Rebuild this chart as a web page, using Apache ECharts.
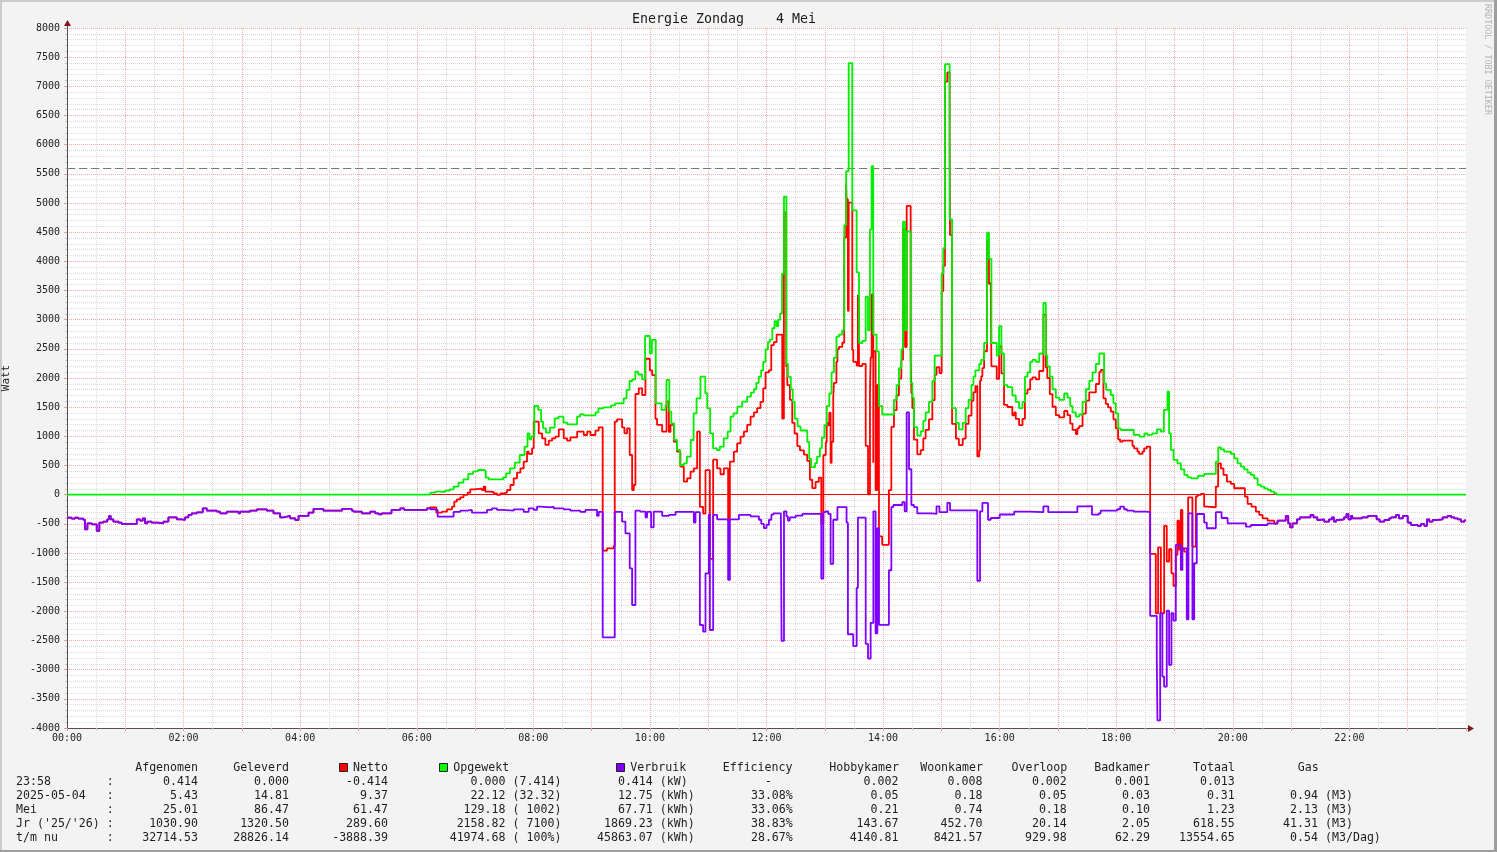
<!DOCTYPE html>
<html><head><meta charset="utf-8">
<script>
// zrender drops polyline segments shorter than ~2/devicePixelRatio px; raise the
// ratio it reads so 1-px RRD steps are kept (the canvas itself is still drawn at 1x).
try { Object.defineProperty(window, 'devicePixelRatio', { value: 8, configurable: true, writable: true }); } catch (e) {}
</script>
<script src="https://cdn.jsdelivr.net/npm/echarts@6/dist/echarts.min.js"></script>
<style>html,body{margin:0;padding:0;background:#f3f3f3}#c{width:1497px;height:852px}</style>
</head><body><div id="c"></div><script>
// ---------- DATA (time in minutes since 00:00, values in Watt) ----------
const titleText = 'Energie Zondag    4 Mei';
const hourTicks = [0, 120, 240, 360, 480, 600, 720, 840, 960, 1080, 1200, 1320];

const opgewekt = [[0,0],[374,35],[379,52],[384,46],[389,69],[394,92],[398,138],[403,206],[408,263],[413,355],[418,400],[423,423],[429,412],[431,292],[434,263],[449,298],[452,366],[456,452],[461,549],[466,680],[471,823],[474,1052],[476,950],[478,1000],[481,1520],[485,1452],[488,1252],[490,1138],[493,1063],[497,1150],[502,1309],[506,1338],[511,1235],[515,1206],[525,1338],[528,1378],[532,1360],[544,1412],[547,1480],[552,1498],[560,1530],[564,1566],[573,1652],[576,1795],[579,1949],[582,1977],[585,2109],[588,2060],[592,1977],[595,2720],[600,2423],[602,2652],[606,1566],[612,1452],[616,1530],[617,1966],[620,1423],[622,1220],[625,937],[628,766],[631,509],[635,537],[638,652],[642,937],[645,1395],[648,1652],[652,2023],[657,1737],[659,1480],[662,1052],[665,795],[669,766],[672,823],[676,966],[680,1080],[683,1338],[686,1395],[690,1510],[695,1595],[700,1680],[704,1749],[707,1807],[709.5,1915],[712,2023],[714.5,2131],[716.6,2276],[719,2492],[721.5,2615],[723.4,2658],[726,2853],[728.3,2975],[730.4,2889],[732,2997],[734,3105],[736,3791],[738,5111],[740.5,2240],[742,2023],[745,1807],[747,1590],[749,1302],[752,1172],[755,1100],[762,905],[764,616],[766,472],[770,540],[772,652],[775,797],[777,977],[779.6,1193],[782,1518],[784.6,1734],[787,2095],[789.4,2348],[792,2709],[794.6,2745],[798,2817],[800,4620],[802,5544],[804.6,7398],[808.3,4873],[812.8,3812],[815.2,2600],[818.6,2636],[822.1,3394],[824.5,2817],[826.5,4548],[828.2,5630],[829.9,2745],[833.3,2456],[835.7,1518],[839.1,1374],[851.2,1626],[853.9,1879],[856.3,2167],[858.8,2492],[860.5,4678],[862.6,2817],[864.3,4512],[868.4,1915],[870.1,1662],[871.8,1157],[875.2,1013],[878.7,1085],[881.4,1265],[883.8,1410],[887.2,1590],[890.7,1950],[893.1,2384],[900.3,3791],[902,4224],[903.7,7380],[908.5,4720],[911,1482],[915,1230],[918,1121],[922,1230],[925,1482],[928,1626],[931,1880],[933,2023],[935,2131],[939,2240],[941,2312],[944,2600],[947,4490],[949,4043],[951.5,2600],[957,2384],[959.4,2889],[961.8,2420],[964.5,1879],[968,1843],[973,1700],[976.6,1590],[980,1482],[983.5,1590],[986,2023],[988.6,2095],[991.4,2276],[993.8,2312],[997.2,2276],[1000.7,2420],[1005,3286],[1007.5,2384],[1009,2200],[1011.6,2023],[1014.4,1807],[1017.8,1662],[1021.3,1626],[1026.4,1734],[1029.8,1662],[1032.6,1518],[1035,1410],[1038.4,1338],[1041.8,1374],[1045.3,1590],[1048.7,1807],[1052.2,1950],[1055.6,2095],[1059,2240],[1062.5,2420],[1067.5,1909],[1069.5,1795],[1074.4,1709],[1077,1566],[1079.5,1395],[1082,1138],[1084.6,1109],[1098,1024],[1104,995],[1109,1052],[1112,1024],[1117,1052],[1122,1120],[1126,1080],[1129,1452],[1132.7,1766],[1134.4,1052],[1136.2,767],[1139,595],[1143,538],[1146.5,435],[1150,338],[1153.3,298],[1157,281],[1164,321],[1170.5,355],[1182.5,566],[1185,812],[1187.7,778],[1191,738],[1198,698],[1201.4,623],[1204.8,538],[1208.3,480],[1211.7,435],[1215.2,378],[1218.6,338],[1222,281],[1225.5,167],[1228.9,138],[1232.3,109],[1235.8,81],[1239.2,52],[1242.6,24],[1245,0],[1440,0]];

const verbruik = [[0,-394],[4.8,-411],[8.2,-394],[11.7,-411],[16.8,-430],[18.5,-594],[21,-491],[25.4,-508],[30.6,-622],[33.3,-479],[37.4,-462],[41.5,-422],[43.3,-365],[45,-422],[47.7,-462],[52.9,-480],[56.3,-502],[71.8,-422],[75.2,-445],[78,-405],[80.3,-491],[82.7,-462],[87.2,-479],[94,-491],[99.2,-462],[104.4,-388],[113,-422],[118,-434],[121.5,-388],[125,-348],[128.4,-319],[133.6,-302],[139.7,-234],[143.9,-274],[154.2,-291],[157.6,-319],[164.5,-291],[176.5,-319],[178.2,-291],[188.5,-274],[195.4,-251],[205.7,-274],[212.5,-319],[219.4,-388],[222.8,-377],[226.3,-365],[229.7,-405],[234.9,-434],[238.3,-365],[248.6,-308],[253.7,-245],[264,-274],[283,-245],[293.2,-274],[295,-291],[303.5,-319],[312.1,-291],[317.3,-319],[320.7,-336],[324.1,-319],[334,-262],[343,-234],[347,-262],[370.5,-234],[374,-250],[378,-262],[381.5,-377],[397.9,-296],[404.8,-274],[411.7,-262],[416.8,-308],[432.3,-262],[437.4,-234],[442.6,-262],[447.7,-274],[459.8,-251],[470.1,-296],[475.2,-234],[480.4,-262],[483.8,-205],[487.2,-217],[497.5,-205],[500.9,-234],[511.2,-251],[518.1,-274],[528.4,-296],[533.6,-262],[545.6,-365],[547.3,-296],[551.4,-2445],[563.8,-296],[571.3,-462],[574.8,-662],[579.2,-1262],[581.7,-1891],[585.1,-274],[590,-290],[595.4,-388],[597.1,-296],[601.2,-559],[603.9,-290],[612.6,-365],[619.5,-348],[626.4,-296],[645.2,-479],[646.9,-300],[651.4,-2234],[654.8,-2348],[657.2,-1348],[660.6,-340],[661.7,-2320],[665.1,-348],[669.2,-422],[680.5,-1462],[682.3,-422],[691.6,-348],[703.6,-372],[712.2,-430],[714.6,-502],[717.3,-574],[720,-516],[722.5,-430],[725,-343],[727,-322],[734.8,-360],[735.5,-2508],[738,-286],[740.5,-372],[742,-444],[744,-390],[750,-360],[757,-330],[776.4,-1440],[778.5,-300],[781,-286],[783.5,-330],[786,-1188],[788.7,-430],[793,-213],[802.4,-480],[803.8,-2393],[809.3,-2595],[812.8,-1599],[814.1,-394],[822.1,-2558],[824.5,-2810],[827.2,-2198],[830,-286],[832.3,-2378],[834.1,-574],[835.8,-2233],[846,-1296],[848.5,-213],[850.5,-177],[859.8,-127],[862.2,-286],[864.3,1410],[866.7,436],[869.1,-177],[871.8,-213],[875.2,-322],[890,-330],[895,-200],[898,-300],[906.1,-141],[908.9,-270],[937,-1476],[939.8,-286],[942.2,-141],[948,-430],[950.8,-400],[960,-340],[975,-290],[990,-300],[1005,-200],[1010,-300],[1040,-200],[1048,-196],[1055,-343],[1062,-320],[1064,-273],[1081,-250],[1084,-205],[1088,-250],[1091,-273],[1098,-290],[1111,-300],[1114.9,-2079],[1121.7,-2776],[1122.4,-3870],[1125.2,-2033],[1127.5,-3119],[1129.3,-3290],[1132,-1988],[1134.4,-2919],[1136.8,-2033],[1138.9,-2159],[1141.3,-862],[1146.5,-1290],[1148.1,-919],[1152.6,-2136],[1154.3,-319],[1158.4,-2136],[1160.2,-1176],[1162.9,-331],[1170.5,-479],[1173.2,-576],[1182.5,-300],[1188.4,-400],[1194.6,-491],[1213.5,-548],[1218.6,-520],[1235.8,-491],[1239,-502],[1246,-445],[1254.5,-365],[1257,-491],[1259,-559],[1261.5,-491],[1266,-422],[1269,-388],[1280,-348],[1283,-388],[1287,-434],[1290,-422],[1294,-462],[1299,-422],[1302,-388],[1304,-462],[1306.5,-434],[1309,-422],[1314.5,-388],[1317,-331],[1319,-422],[1321.6,-365],[1323,-405],[1333,-388],[1339,-365],[1348,-422],[1351,-462],[1356,-434],[1361,-405],[1363,-388],[1368,-348],[1371,-405],[1375,-365],[1380,-479],[1383.4,-519],[1390.3,-536],[1393.7,-502],[1397.1,-536],[1399.8,-422],[1402.2,-462],[1405.7,-434],[1410.9,-422],[1416,-388],[1421,-365],[1424.6,-388],[1428,-405],[1431.5,-422],[1434.9,-462],[1438.4,-440],[1440,-440]];

const netto = [[0,-394],[4.8,-411],[8.2,-394],[11.7,-411],[16.8,-430],[18.5,-594],[21,-491],[25.4,-508],[30.6,-622],[33.3,-479],[37.4,-462],[41.5,-422],[43.3,-365],[45,-422],[47.7,-462],[52.9,-480],[56.3,-502],[71.8,-422],[75.2,-445],[78,-405],[80.3,-491],[82.7,-462],[87.2,-479],[94,-491],[99.2,-462],[104.4,-388],[113,-422],[118,-434],[121.5,-388],[125,-348],[128.4,-319],[133.6,-302],[139.7,-234],[143.9,-274],[154.2,-291],[157.6,-319],[164.5,-291],[176.5,-319],[178.2,-291],[188.5,-274],[195.4,-251],[205.7,-274],[212.5,-319],[219.4,-388],[222.8,-377],[226.3,-365],[229.7,-405],[234.9,-434],[238.3,-365],[248.6,-308],[253.7,-245],[264,-274],[283,-245],[293.2,-274],[295,-291],[303.5,-319],[312.1,-291],[317.3,-319],[320.7,-336],[324.1,-319],[334,-262],[343,-234],[347,-262],[370.5,-234],[373.9,-217],[380.1,-308],[385.9,-291],[391.1,-251],[396.3,-205],[398.6,-120],[401.3,-80],[404.8,-45],[408.2,-5],[412.4,35],[415.1,92],[418.6,103],[427.1,80],[428.9,138],[430.6,52],[435.8,46],[439.2,23],[442.6,-5],[446,23],[449.5,35],[452.9,80],[456.4,166],[459.8,280],[463.2,378],[466.7,452],[470.1,566],[473.5,737],[475.2,698],[478.7,795],[480.4,1252],[485.6,1052],[489,966],[492.4,852],[495.9,926],[499.3,966],[502.7,995],[506.2,1120],[511.3,966],[514.8,926],[518.2,983],[525.1,1080],[531.9,1023],[535.4,1080],[538.8,1023],[543.9,1098],[547.3,1155],[551.4,-959],[555.9,-919],[562.7,-879],[563.8,1252],[566.2,1292],[571.3,1155],[573.8,1052],[576.5,1138],[579.2,680],[581.7,80],[583.4,166],[585.1,1726],[588.5,1823],[592,1709],[595.4,2330],[599.9,2130],[602.3,2050],[605.7,1300],[607.4,1195],[612.6,1080],[617.1,1600],[619.5,1075],[621.2,1195],[624.6,909],[628,737],[631.4,480],[634.9,223],[638.3,280],[641.8,395],[645.2,452],[648.6,1080],[651.4,-210],[654.8,-325],[657.2,420],[661.7,-1100],[665.1,600],[669.2,450],[672.6,350],[676.1,450],[680.5,-450],[682.3,566],[686.4,737],[689.8,880],[693.3,995],[696.7,1080],[700.1,1195],[703.6,1338],[707,1410],[710.4,1482],[713.8,1590],[716.6,1821],[719,2095],[722.5,2131],[724.9,2564],[727.6,2615],[730.4,2745],[736.2,1302],[737.9,4837],[740.3,2203],[741.4,1879],[744.1,1626],[746.5,1230],[748.9,1049],[751.7,833],[754.4,760],[758.5,688],[761.9,580],[764.7,256],[767.1,111],[770.5,221],[773.9,293],[776.4,-502],[778.5,680],[781,900],[782,1232],[783.5,1188],[784.6,1404],[786,546],[787,907],[788.7,1665],[789.4,1918],[792,2279],[793,2496],[794.6,2532],[798,2604],[800,4407],[802,5331],[802.4,5064],[803.8,3151],[804.6,5005],[808.3,2480],[809.3,2278],[812.8,2213],[814.1,3418],[815.2,2206],[818.6,2242],[822.1,836],[824.5,7],[826.5,1738],[827.2,2350],[828.2,3432],[829.9,547],[830,2459],[832.3,78],[834.1,1882],[835.7,944],[835.8,-715],[839.1,-859],[846,78],[848.5,1161],[851.2,1449],[853.9,1702],[856.3,1990],[858.8,2315],[860.5,4551],[862.6,2531],[864.3,4950],[868.4,2351],[869.1,1738],[870.1,1485],[871.8,944],[875.2,691],[878.7,763],[881.4,965],[883.8,1110],[887.2,1290],[890.7,1620],[893.1,2054],[895,2184],[898,2084],[900.3,3491],[902,3924],[903.7,7080],[906.1,7239],[908.5,5950],[908.9,4450],[911,1212],[915,960],[918,851],[922,960],[925,1212],[928,1356],[931,1610],[933,1753],[935,1861],[937,655],[939,764],[939.8,1954],[941,2026],[942.2,2171],[944,2459],[947,4349],[948,4060],[949,3613],[950.8,3643],[951.5,2200],[957,1984],[959.4,2489],[960,2549],[961.8,2080],[964.5,1539],[968,1503],[973,1360],[975,1410],[976.6,1300],[980,1192],[983.5,1300],[986,1733],[988.6,1805],[991.4,1976],[993.8,2012],[997.2,1976],[1000.7,2120],[1005,3086],[1007.5,2184],[1009,2000],[1011.6,1723],[1014.4,1507],[1017.8,1362],[1021.3,1326],[1026.4,1434],[1029.8,1362],[1032.6,1218],[1035,1110],[1038.4,1038],[1040,1138],[1041.8,1174],[1045.3,1390],[1048.7,1611],[1052.2,1754],[1055.6,1752],[1059,1897],[1062.5,2100],[1064.1,2138],[1066.8,1652],[1069.2,1555],[1071.6,1498],[1074.4,1424],[1077.1,1292],[1079.5,1138],[1081.9,949],[1084,909],[1086.4,926],[1096.7,835],[1098.4,795],[1101.8,738],[1103.5,698],[1107,738],[1108.7,795],[1111.4,824],[1114.9,-1016],[1120.7,-2033],[1123.1,-902],[1125.9,-2033],[1129.3,-536],[1132,-1147],[1134.4,-936],[1136.8,-1348],[1138.9,-1565],[1141.3,-1033],[1143,-445],[1144.7,-948],[1146.5,-262],[1148.1,-919],[1149.8,-976],[1152.6,-1290],[1154,-45],[1158.4,-890],[1161.9,-34],[1163.6,-5],[1167.1,12],[1170.5,-205],[1173.2,-216],[1182.5,138],[1184.9,538],[1187.7,452],[1190.4,338],[1193.9,224],[1198,184],[1201.4,110],[1212.4,-34],[1215.2,-159],[1219.3,-205],[1223.7,-290],[1227.2,-348],[1230.6,-405],[1235.8,-445],[1242.6,-490],[1246,-445],[1254.5,-365],[1257,-491],[1259,-559],[1261.5,-491],[1266,-422],[1269,-388],[1280,-348],[1283,-388],[1287,-434],[1290,-422],[1294,-462],[1299,-422],[1302,-388],[1304,-462],[1306.5,-434],[1309,-422],[1314.5,-388],[1317,-331],[1319,-422],[1321.6,-365],[1323,-405],[1333,-388],[1339,-365],[1348,-422],[1351,-462],[1356,-434],[1361,-405],[1363,-388],[1368,-348],[1371,-405],[1375,-365],[1380,-479],[1383.4,-519],[1390.3,-536],[1393.7,-502],[1397.1,-536],[1399.8,-422],[1402.2,-462],[1405.7,-434],[1410.9,-422],[1416,-388],[1421,-365],[1424.6,-388],[1428,-405],[1431.5,-422],[1434.9,-462],[1438.4,-440],[1440,-440]];

const limitLine = 5600;

// ---------- legend table ----------
const rowLabels   = ['23:58', '2025-05-04', 'Mei', "Jr ('25/'26)", 't/m nu'];
const tAfgenomen  = ['0.414', '5.43', '25.01', '1030.90', '32714.53'];
const tGeleverd   = ['0.000', '14.81', '86.47', '1320.50', '28826.14'];
const tNetto      = ['-0.414', '9.37', '61.47', '289.60', '-3888.39'];
const tOpgewekt   = ['0.000', '22.12', '129.18', '2158.82', '41974.68'];
const tOpgewektB  = ['(7.414)', '(32.32)', '( 1002)', '( 7100)', '( 100%)'];
const tVerbruik   = ['0.414', '12.75', '67.71', '1869.23', '45863.07'];
const tVerbruikU  = ['(kW)', '(kWh)', '(kWh)', '(kWh)', '(kWh)'];
const tEfficiency = ['-', '33.08%', '33.06%', '38.83%', '28.67%'];
const tHobbykamer = ['0.002', '0.05', '0.21', '143.67', '4140.81'];
const tWoonkamer  = ['0.008', '0.18', '0.74', '452.70', '8421.57'];
const tOverloop   = ['0.002', '0.05', '0.18', '20.14', '929.98'];
const tBadkamer   = ['0.001', '0.03', '0.10', '2.05', '62.29'];
const tTotaal     = ['0.013', '0.31', '1.23', '618.55', '13554.65'];
const tGas        = ['', '0.94', '2.13', '41.31', '0.54'];
const tGasU       = ['', '(M3)', '(M3)', '(M3)', '(M3/Dag)'];

// ---------- rendering ----------
const MONO = "'DejaVu Sans Mono', monospace";
const TXT = '#1e1e1e';
const RED = '#ff0000', GREEN = '#00ee00', PURPLE = '#7f00ff';
const LW = 1.8;

function txt(x, y, s, align, size, color) {
  return { type: 'text', x: x, y: y, silent: true,
    style: { text: s, x: 0, y: 0, fill: color || TXT, font: (size || 11.6) + 'px ' + MONO,
      align: align || 'left', verticalAlign: 'middle', textAlign: align || 'left', textVerticalAlign: 'middle' } };
}

const graphics = [];
// frame
graphics.push({ type: 'rect', silent: true, shape: { x: 0, y: 0, width: 1497, height: 2 }, style: { fill: '#cbcbcb' } });
graphics.push({ type: 'rect', silent: true, shape: { x: 0, y: 0, width: 2, height: 852 }, style: { fill: '#cbcbcb' } });
graphics.push({ type: 'rect', silent: true, shape: { x: 1494, y: 0, width: 3, height: 852 }, style: { fill: '#9e9e9e' } });
graphics.push({ type: 'rect', silent: true, shape: { x: 0, y: 850, width: 1497, height: 2 }, style: { fill: '#9e9e9e' } });
// axis arrows
graphics.push({ type: 'line', silent: true, shape: { x1: 67.5, y1: 28, x2: 67.5, y2: 23 }, style: { stroke: '#5a4d4d', lineWidth: 1 } });
graphics.push({ type: 'polygon', silent: true, shape: { points: [[64, 26], [71, 26], [67.5, 20]] }, style: { fill: '#7d1a1a' } });
graphics.push({ type: 'line', silent: true, shape: { x1: 1466, y1: 728.5, x2: 1469, y2: 728.5 }, style: { stroke: '#5a4d4d', lineWidth: 1 } });
graphics.push({ type: 'polygon', silent: true, shape: { points: [[1468, 725], [1468, 732], [1474, 728.5]] }, style: { fill: '#7d1a1a' } });
// title + watermark
graphics.push(txt(632, 19.5, titleText, 'left', 13.3, '#1a1a1a'));
graphics.push({ type: 'text', x: 1487.5, y: 4, rotation: -Math.PI / 2, silent: true,
  style: { text: 'RRDTOOL / TOBI OETIKER', x: 0, y: 0, fill: '#b4b4b4', font: '8.4px ' + MONO,
    align: 'left', verticalAlign: 'middle', textAlign: 'left', textVerticalAlign: 'middle' } });

// legend header
const hy = 768;
graphics.push(txt(198, hy, 'Afgenomen', 'right'));
graphics.push(txt(289, hy, 'Geleverd', 'right'));
graphics.push({ type: 'rect', silent: true, shape: { x: 339.5, y: 763.5, width: 8, height: 8 }, style: { fill: RED, stroke: '#222', lineWidth: 1 } });
graphics.push(txt(388, hy, 'Netto', 'right'));
graphics.push({ type: 'rect', silent: true, shape: { x: 439.5, y: 763.5, width: 8, height: 8 }, style: { fill: '#00ff00', stroke: '#222', lineWidth: 1 } });
graphics.push(txt(453.3, hy, 'Opgewekt', 'left'));
graphics.push({ type: 'rect', silent: true, shape: { x: 616.5, y: 763.5, width: 8, height: 8 }, style: { fill: '#8000ff', stroke: '#222', lineWidth: 1 } });
graphics.push(txt(630.3, hy, 'Verbruik', 'left'));
graphics.push(txt(792.5, hy, 'Efficiency', 'right'));
graphics.push(txt(899, hy, 'Hobbykamer', 'right'));
graphics.push(txt(983, hy, 'Woonkamer', 'right'));
graphics.push(txt(1067.3, hy, 'Overloop', 'right'));
graphics.push(txt(1150, hy, 'Badkamer', 'right'));
graphics.push(txt(1235, hy, 'Totaal', 'right'));
graphics.push(txt(1318.8, hy, 'Gas', 'right'));

for (let i = 0; i < rowLabels.length; i++) {
  const y = 782 + i * 14;
  graphics.push(txt(16, y, rowLabels[i].padEnd(13, ' ') + ':', 'left'));
  graphics.push(txt(198, y, tAfgenomen[i], 'right'));
  graphics.push(txt(289, y, tGeleverd[i], 'right'));
  graphics.push(txt(388, y, tNetto[i], 'right'));
  graphics.push(txt(505.5, y, tOpgewekt[i], 'right'));
  graphics.push(txt(512.5, y, tOpgewektB[i], 'left'));
  graphics.push(txt(652.8, y, tVerbruik[i], 'right'));
  graphics.push(txt(659.8, y, tVerbruikU[i], 'left'));
  if (tEfficiency[i] === '-') graphics.push(txt(768.5, y, '-', 'center'));
  else graphics.push(txt(792.8, y, tEfficiency[i], 'right'));
  graphics.push(txt(898.5, y, tHobbykamer[i], 'right'));
  graphics.push(txt(982.5, y, tWoonkamer[i], 'right'));
  graphics.push(txt(1066.8, y, tOverloop[i], 'right'));
  graphics.push(txt(1150, y, tBadkamer[i], 'right'));
  graphics.push(txt(1234.8, y, tTotaal[i], 'right'));
  if (tGas[i]) {
    graphics.push(txt(1318, y, tGas[i], 'right'));
    graphics.push(txt(1325, y, tGasU[i], 'left'));
  }
}

const MAJ = '#f2abab', MIN = '#dcdcdc';
const chart = echarts.init(document.getElementById('c'), null, { renderer: 'canvas', devicePixelRatio: 1 });
chart.setOption({
  animation: false,
  backgroundColor: '#f3f3f3',
  textStyle: { fontFamily: MONO },
  grid: { left: 67, top: 28, width: 1399, height: 700, show: true, backgroundColor: '#ffffff', borderWidth: 0, containLabel: false, outerBoundsMode: 'none' },
  xAxis: {
    type: 'value', min: 0, max: 1440, interval: 60,
    axisLine: { show: true, onZero: false, lineStyle: { color: '#5a4d4d', width: 1 } },
    axisTick: { show: true, length: 3, lineStyle: { color: '#e39a9a' } },
    minorTick: { show: true, splitNumber: 2, length: 2, lineStyle: { color: '#c4c4c4' } },
    axisLabel: { margin: 5, fontFamily: MONO, fontSize: 10, color: '#222', showMaxLabel: false,
      formatter: function (v) { return hourTicks.indexOf(v) >= 0 ? String(v / 60).padStart(2, '0') + ':00' : ''; } },
    splitLine: { show: true, showMinLine: false, showMaxLine: false, lineStyle: { color: MAJ, type: [1, 1], width: 1 } },
    minorSplitLine: { show: true, lineStyle: { color: MIN, type: [1, 1], width: 1 } }
  },
  yAxis: {
    type: 'value', min: -4000, max: 8000, interval: 500,
    name: 'Watt', nameLocation: 'middle', nameRotate: 90, nameGap: 55,
    nameTextStyle: { fontFamily: MONO, fontSize: 11, color: '#222' },
    axisLine: { show: true, onZero: false, lineStyle: { color: '#5a4d4d', width: 1 } },
    axisTick: { show: true, length: 3, lineStyle: { color: '#e39a9a' } },
    minorTick: { show: true, splitNumber: 5, length: 2, lineStyle: { color: '#c4c4c4' } },
    axisLabel: { margin: 7, fontFamily: MONO, fontSize: 10, color: '#222', formatter: function (v) { return String(v); } },
    splitLine: { show: true, showMinLine: false, lineStyle: { color: MAJ, type: [1, 1], width: 1 } },
    minorSplitLine: { show: true, lineStyle: { color: MIN, type: [1, 1], width: 1 } }
  },
  series: [
    { name: 'Netto', type: 'line', step: 'end', data: netto, showSymbol: false, symbol: 'none', z: 2,
      lineStyle: { color: RED, width: LW }, itemStyle: { color: RED },
      markLine: { silent: true, z: 1, symbol: ['none', 'none'], animation: false, label: { show: false },
        data: [ { yAxis: 0, lineStyle: { color: RED, width: 1, type: 'solid' } },
                { yAxis: limitLine, lineStyle: { color: '#777777', width: 1, type: [8, 4] } } ] } },
    { name: 'Opgewekt', type: 'line', step: 'end', data: opgewekt, showSymbol: false, symbol: 'none', z: 3,
      lineStyle: { color: GREEN, width: LW }, itemStyle: { color: GREEN } },
    { name: 'Verbruik', type: 'line', step: 'end', data: verbruik, showSymbol: false, symbol: 'none', z: 4,
      lineStyle: { color: PURPLE, width: LW }, itemStyle: { color: PURPLE } }
  ],
  graphic: { elements: graphics }
});
</script></body></html>
